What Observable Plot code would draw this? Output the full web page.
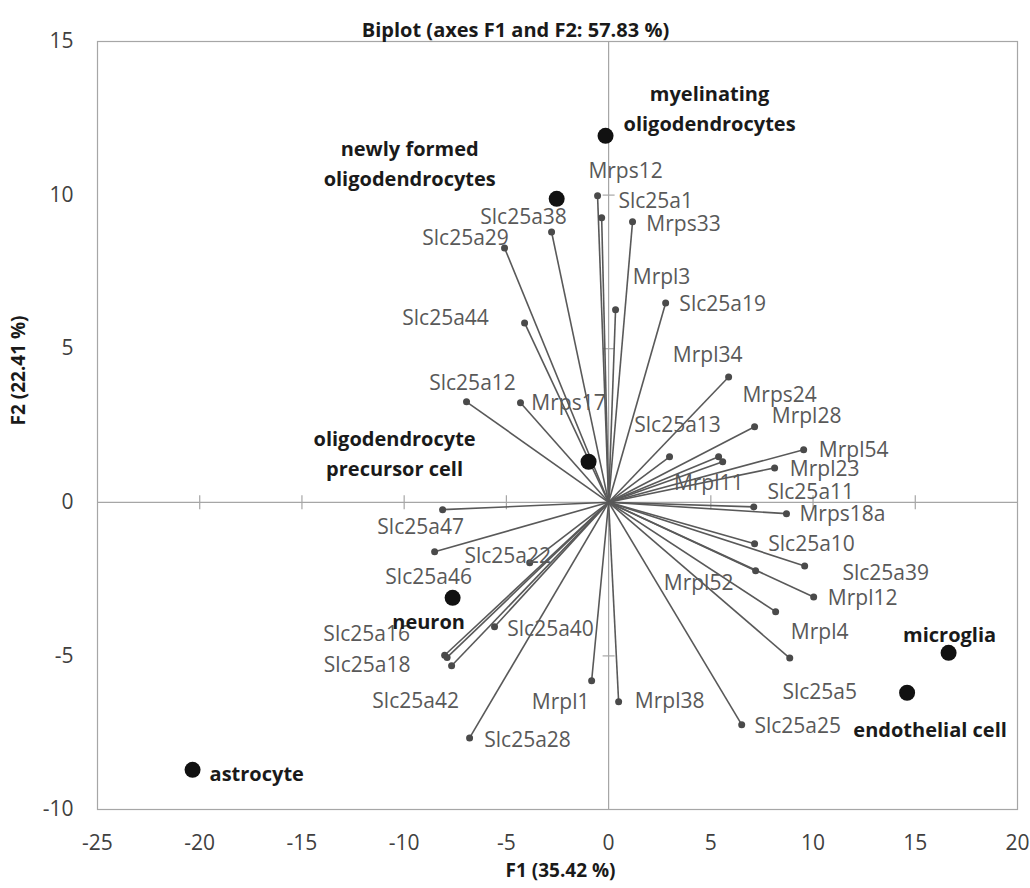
<!DOCTYPE html>
<html><head><meta charset="utf-8">
<script src="https://cdn.jsdelivr.net/npm/d3@7"></script>
<script src="https://cdn.jsdelivr.net/npm/@observablehq/plot@0.6"></script>
<style>html,body{margin:0;padding:0;background:#fff;}</style>
</head><body><div id="chart"></div>
<script>
// ---- data ----
const titleText = "Biplot (axes F1 and F2: 57.83 %)";
const xLabel = "F1 (35.42 %)";
const yLabel = "F2 (22.41 %)";
const xTicks = [-25, -20, -15, -10, -5, 0, 5, 10, 15, 20];
const yTicks = [-10, -5, 0, 5, 10, 15];

const obsNames = ["myelinating\noligodendrocytes", "newly formed\noligodendrocytes", "oligodendrocyte\nprecursor cell", "neuron", "astrocyte", "microglia", "endothelial cell"];
const obsF1 = [-0.15, -2.54, -0.98, -7.63, -20.35, 16.63, 14.6];
const obsF2 = [11.93, 9.88, 1.32, -3.11, -8.71, -4.9, -6.2];

const varNames = ["Mrps12", "Slc25a1", "Mrps33", "Slc25a38", "Slc25a29", "Mrpl3", "Slc25a19", "Slc25a44", "Mrpl34", "Slc25a12", "Mrps17", "Mrps24", "Mrpl28", "Slc25a13", "Mrpl54", "Mrpl23", "Mrpl11", "Slc25a11", "Mrps18a", "Slc25a47", "Slc25a10", "Slc25a22", "Slc25a39", "Slc25a46", "Mrpl12", "Mrpl52", "Slc25a40", "Mrpl4", "Slc25a16", "Slc25a18", "Slc25a5", "Slc25a42", "Mrpl1", "Mrpl38", "Slc25a28", "Slc25a25"];
const varF1 = [-0.54, -0.34, 1.17, -2.79, -5.09, 0.34, 2.79, -4.11, 5.87, -6.95, -4.31, 5.38, 7.14, 2.98, 9.54, 8.12, 5.58, 7.10, 8.70, -8.12, 7.14, -3.86, 9.59, -8.51, 10.03, 7.19, -5.58, 8.17, -8.02, -7.90, 8.86, -7.68, -0.83, 0.49, -6.80, 6.51];
const varF2 = [9.98, 9.26, 9.13, 8.80, 8.28, 6.27, 6.49, 5.84, 4.08, 3.27, 3.24, 1.48, 2.46, 1.48, 1.71, 1.12, 1.32, -0.15, -0.37, -0.24, -1.35, -1.97, -2.07, -1.61, -3.08, -2.23, -4.05, -3.56, -4.98, -5.05, -5.07, -5.32, -5.81, -6.49, -7.67, -7.24];

// ---- label layout (pixel nudges, not data) ----
const varLabelNudge = {
  Mrps12: [28, -24], Slc25a1: [54, -17], Mrps33: [51, 2], Slc25a38: [-28, -15], Slc25a29: [-39, -10],
  Mrpl3: [46, -32], Slc25a19: [57, 1], Slc25a44: [-79, -5], Mrpl34: [-21, -22], Slc25a12: [6, -19],
  Mrps17: [48, 0], Mrps24: [61, -62], Mrpl28: [52, -10], Slc25a13: [8, -32], Mrpl54: [50, 0],
  Mrpl23: [50, 1], Mrpl11: [-14, 22], Slc25a11: [57, -15], Mrps18a: [56, 1], Slc25a47: [-22, 18],
  Slc25a10: [57, 0], Slc25a22: [-22, -7], Slc25a39: [81, 7], Slc25a46: [-6, 26], Mrpl12: [49, 1],
  Mrpl52: [-57, 12], Slc25a40: [56, 3], Mrpl4: [44, 21], Slc25a16: [-78, -21], Slc25a18: [-80, 8],
  Slc25a5: [30, 34], Slc25a42: [-36, 36], Mrpl1: [-31, 21], Mrpl38: [51, 0], Slc25a28: [58, 2], Slc25a25: [56, 2]
};
const obsLabelNudge = [
  [104, -29, "middle"], [-147, -37, "middle"], [-194, -10, "middle"], [-24, 22, "middle"],
  [17, 2, "start"], [1, -20, "middle"], [23, 35, "middle"]
];

const obs = obsNames.map((n, i) => ({name: n, x: obsF1[i], y: obsF2[i]}));
const vars = varNames.map((n, i) => ({name: n, x: varF1[i], y: varF2[i]}));

const vTick = {draw(ctx) { ctx.moveTo(0, -7); ctx.lineTo(0, 7); }};
const hTick = {draw(ctx) { ctx.moveTo(-6, 0); ctx.lineTo(6, 0); }};
const innerX = xTicks.filter(v => v !== 0 && v !== xTicks[0] && v !== xTicks[xTicks.length - 1]);
const innerY = yTicks.filter(v => v !== 0 && v !== yTicks[0] && v !== yTicks[yTicks.length - 1]);

const gridGray = "#a6a6a6";
const varColor = "#595959";
const hyphen = d => String(d);

const chart = Plot.plot({
  width: 1030,
  height: 888,
  marginLeft: 97,
  marginRight: 13,
  marginTop: 41,
  marginBottom: 79,
  x: {domain: [-25, 20]},
  y: {domain: [-10, 15]},
  style: {background: "#fff", fontFamily: "'Open Sans', sans-serif", fontSize: "21px", color: "#404040", overflow: "visible"},
  marks: [
    Plot.frame({stroke: gridGray, strokeWidth: 1.2}),
    Plot.ruleX([0], {stroke: gridGray, strokeWidth: 1.2}),
    Plot.ruleY([0], {stroke: gridGray, strokeWidth: 1.2}),
    Plot.dot(innerX, {x: d => d, y: () => 0, symbol: vTick, fill: "none", stroke: gridGray, strokeWidth: 1.2}),
    Plot.dot(innerY, {x: () => 0, y: d => d, symbol: hTick, fill: "none", stroke: gridGray, strokeWidth: 1.2}),
    Plot.axisX(xTicks, {anchor: "bottom", tickSize: 0, tickPadding: 26, tickFormat: hyphen, label: null, fill: "#404040"}),
    Plot.axisY(yTicks, {anchor: "left", tickSize: 0, tickPadding: 24, tickFormat: hyphen, label: null, fill: "#404040"}),
    Plot.link(vars, {x1: () => 0, y1: () => 0, x2: "x", y2: "y", stroke: varColor, strokeWidth: 1.6}),
    Plot.dot(vars, {x: "x", y: "y", r: 3.5, fill: "#4a4a4a"}),
    Plot.dot(obs, {x: "x", y: "y", r: 8, fill: "#111"}),
    ...vars.map(d => Plot.text([d], {x: "x", y: "y", text: "name", dx: varLabelNudge[d.name][0], dy: varLabelNudge[d.name][1], fill: varColor, fontSize: 21})),
    ...obs.map((d, i) => Plot.text([d], {x: "x", y: "y", text: "name", dx: obsLabelNudge[i][0], dy: obsLabelNudge[i][1], textAnchor: obsLabelNudge[i][2], fill: "#1a1a1a", fontSize: 20, fontWeight: "bold", lineHeight: 1.5})),
    Plot.text([titleText], {frameAnchor: "top", dx: -42, dy: -19, fontSize: 20, fontWeight: "bold", fill: "#1a1a1a"}),
    Plot.text([xLabel], {frameAnchor: "bottom", dx: 3, dy: 67, fontSize: 19, fontWeight: "bold", fill: "#1a1a1a"}),
    Plot.text([yLabel], {frameAnchor: "left", dx: -79, rotate: -90, fontSize: 19, fontWeight: "bold", fill: "#1a1a1a"})
  ]
});
document.getElementById("chart").appendChild(chart);
</script>
</body></html>
